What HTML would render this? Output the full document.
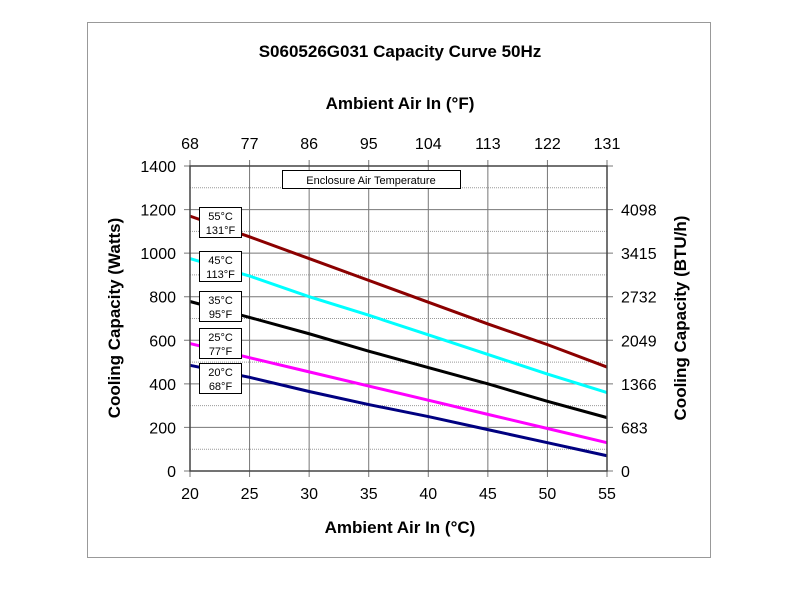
<!DOCTYPE html>
<html><head><meta charset="utf-8"><style>
body{margin:0;background:#fff;width:800px;height:600px;overflow:hidden}
svg{font-family:"Liberation Sans",Arial,sans-serif}
</style></head><body>
<svg width="800" height="600">
<rect x="87.5" y="22.5" width="623" height="535" fill="#fff" stroke="#999"/>
<text x="400" y="57" text-anchor="middle" font-size="17" font-weight="bold">S060526G031 Capacity Curve 50Hz</text>
<text x="400" y="109" text-anchor="middle" font-size="17" font-weight="bold">Ambient Air In (°F)</text>
<text x="400" y="533" text-anchor="middle" font-size="17" font-weight="bold">Ambient Air In (°C)</text>
<text transform="translate(120,318) rotate(-90)" text-anchor="middle" font-size="17" font-weight="bold">Cooling Capacity (Watts)</text>
<text transform="translate(686,318) rotate(-90)" text-anchor="middle" font-size="17" font-weight="bold">Cooling Capacity (BTU/h)</text>
<g id="grid"></g><g id="lines"></g><g id="axes"></g>
<rect x="282.5" y="170.5" width="178" height="18" fill="#fff" stroke="#000"/>
<text x="371" y="184" text-anchor="middle" font-size="11">Enclosure Air Temperature</text>
<g id="labels"></g>
</svg>
<script>
const xTicks=[20,25,30,35,40,45,50,55];
const fTicks=["68","77","86","95","104","113","122","131"];
const yTicks=[0,200,400,600,800,1000,1200,1400];
const btuTicks=["0","683","1366","2049","2732","3415","4098",""];
const seriesNames=["55°C|131°F","45°C|113°F","35°C|95°F","25°C|77°F","20°C|68°F"];
const seriesColors=["#8b0000","#00ffff","#000000","#ff00ff","#000080"];
const s55=[1170,1075,975,875,775,675,580,477];
const s45=[975,895,800,715,625,535,445,360];
const s35=[778,705,630,550,475,400,320,245];
const s25=[585,520,455,390,325,260,195,130];
const s20=[485,430,365,305,250,190,130,70];
const series=[s55,s45,s35,s25,s20];
const labelY=[221,265,305,342,377];
const X0=190,X1=607,Y0=471,Y1=166;
const sx=v=>X0+(v-20)/35*(X1-X0);
const sy=v=>Y0-v/1400*(Y0-Y1);
const NS="http://www.w3.org/2000/svg";
function mk(tag,attrs,parent,text){const e=document.createElementNS(NS,tag);for(const k in attrs)e.setAttribute(k,attrs[k]);if(text!==undefined)e.textContent=text;document.getElementById(parent).appendChild(e);return e;}
for(let v=100;v<1400;v+=200){const g=mk('line',{x1:X0,x2:X1,y1:sy(v),y2:sy(v),stroke:'#999','stroke-dasharray':'1,1'},'grid');

}
yTicks.forEach((v,i)=>{const g=mk('line',{x1:X0-6,x2:X1+6,y1:sy(v),y2:sy(v),stroke:'#777'},'grid');


const t=mk('text',{x:X0-14,y:sy(v)+6,'text-anchor':'end','font-size':16},'axes',String(v));


if(btuTicks[i]){const r=mk('text',{x:X1+14,y:sy(v)+6,'font-size':16},'axes',btuTicks[i]);

}});
xTicks.forEach((v,i)=>{const g=mk('line',{x1:sx(v),x2:sx(v),y1:Y1-6,y2:Y0+6,stroke:'#777'},'grid');


const t=mk('text',{x:sx(v),y:Y0+28,'text-anchor':'middle','font-size':16},'axes',String(v));


const f=mk('text',{x:sx(v),y:Y1-17,'text-anchor':'middle','font-size':16},'axes',fTicks[i]);

});
const fr=mk('rect',{x:X0,y:Y1,width:X1-X0,height:Y0-Y1,fill:'none',stroke:'#444','stroke-width':1.5},'axes');


series.forEach((s,k)=>{const p=mk('polyline',{points:s.map((v,i)=>sx(xTicks[i])+','+sy(v)).join(' '),fill:'none',stroke:seriesColors[k],'stroke-width':3},'lines');


const y=labelY[k];
const b=mk('rect',{x:199.5,y:y-13.5,width:42,height:30,fill:'#fff',stroke:'#000'},'labels');


const parts=seriesNames[k].split('|');
const t1=mk('text',{x:220.5,y:y-1,'text-anchor':'middle','font-size':11},'labels',parts[0]);


const t2=mk('text',{x:220.5,y:y+13,'text-anchor':'middle','font-size':11},'labels',parts[1]);

});
</script>
</body></html>
